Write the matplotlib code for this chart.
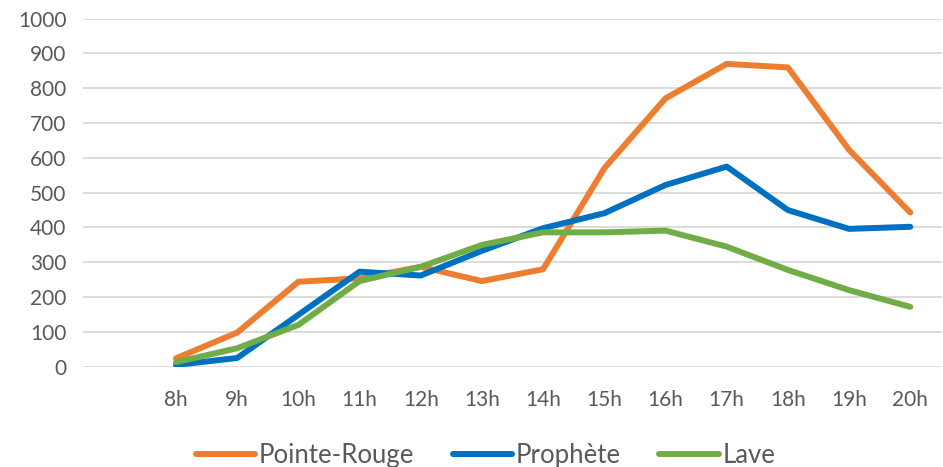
import matplotlib
matplotlib.use("Agg")
import matplotlib.pyplot as plt

hours = ['8h', '9h', '10h', '11h', '12h', '13h', '14h', '15h', '16h', '17h', '18h', '19h', '20h']
pointe_rouge = [24, 98, 244, 254, 287, 246, 280, 570, 771, 870, 860, 623, 443]
prophete = [5, 25, 149, 273, 262, 333, 398, 441, 522, 575, 450, 396, 402]
lave = [13, 53, 120, 246, 287, 350, 386, 386, 391, 345, 278, 220, 172]

plt.rcParams['font.family'] = ['Lato', 'DejaVu Sans']

fig = plt.figure(figsize=(9.43, 4.67), dpi=100)
ax = fig.add_axes([0.088, 0.2148, 0.911, 0.7452])

x = list(range(len(hours)))
series = [(pointe_rouge, 'Pointe-Rouge', '#ED7D31'),
          (prophete, 'Prophète', '#0070C0'),
          (lave, 'Lave', '#70AD47')]
for vals, name, col in series:
    ax.plot(x, vals, color=col, lw=4.3, label=name,
            solid_capstyle='round', solid_joinstyle='round')

ax.set_ylim(0, 1000)
ax.set_xlim(-1.52, 12.52)
ax.set_yticks(range(0, 1001, 100))
ax.set_xticks(x)
ax.set_xticklabels(hours)
ax.yaxis.grid(True, color='#D9D9D9', lw=1.3)
ax.set_axisbelow(True)
for s in ax.spines.values():
    s.set_visible(False)
ax.tick_params(axis='both', length=0, labelsize=15, colors='#595959')
ax.tick_params(axis='x', pad=17)
ax.tick_params(axis='y', pad=12)

fig.legend(loc='center', bbox_to_anchor=(0.515, 0.024), ncol=3, frameon=False,
           fontsize=18.5, handlelength=2.3, handletextpad=0.15, columnspacing=1.5,
           labelcolor='#595959')

fig.savefig('out.png', dpi=100)
